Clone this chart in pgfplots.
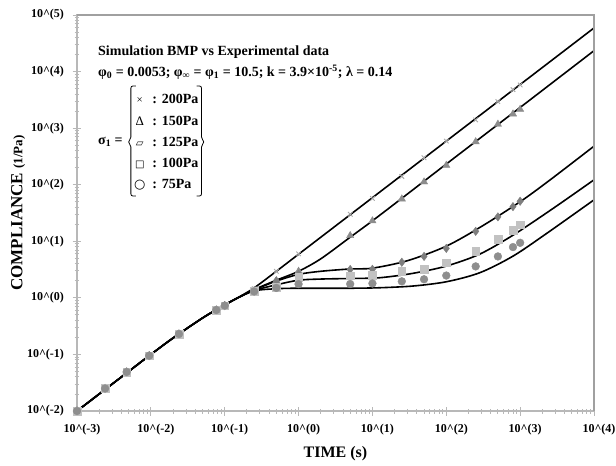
\documentclass[border=0pt]{standalone}
\usepackage{fontspec}
\setmainfont{Liberation Serif}
\newfontfamily\symfont{DejaVu Sans}
\usepackage{pgfplots}
\pgfplotsset{compat=1.18}
\usetikzlibrary{calc}

\definecolor{axisgray}{HTML}{B8B8B8}
\definecolor{framegray}{HTML}{A0A0A0}
\definecolor{mkx}{HTML}{A8A8A8}
\definecolor{mktri}{HTML}{8C8C8C}
\definecolor{mkdia}{HTML}{7E7E7E}
\definecolor{mksq}{HTML}{C2C2C2}
\definecolor{mkcirc}{HTML}{8E8E8E}

\begin{document}
\begin{tikzpicture}
\begin{axis}[
    scale only axis,
    width=517pt, height=396pt,
    xmode=log, ymode=log,
    xmin=1e-3, xmax=1e4, ymin=1e-2, ymax=1e5,
    clip=false,
    axis line style={draw=axisgray, line width=1.4pt},
    xtick={1e-3,1e-2,1e-1,1,1e1,1e2,1e3,1e4},
    xticklabels={10\textasciicircum(-3),10\textasciicircum(-2),10\textasciicircum(-1),10\textasciicircum(0),
                 10\textasciicircum(1),10\textasciicircum(2),10\textasciicircum(3),10\textasciicircum(4)},
    ytick={1e-2,1e-1,1,1e1,1e2,1e3,1e4,1e5},
    yticklabels={10\textasciicircum(-2),10\textasciicircum(-1),10\textasciicircum(0),10\textasciicircum(1),
                 10\textasciicircum(2),10\textasciicircum(3),10\textasciicircum(4),10\textasciicircum(5)},
    minor xtick={2e-3,3e-3,4e-3,5e-3,6e-3,7e-3,8e-3,9e-3,
                 2e-2,3e-2,4e-2,5e-2,6e-2,7e-2,8e-2,9e-2,
                 0.2,0.3,0.4,0.5,0.6,0.7,0.8,0.9,
                 2,3,4,5,6,7,8,9,
                 20,30,40,50,60,70,80,90,
                 200,300,400,500,600,700,800,900,
                 2000,3000,4000,5000,6000,7000,8000,9000},
    minor ytick={2e-2,3e-2,4e-2,5e-2,6e-2,7e-2,8e-2,9e-2,
                 0.2,0.3,0.4,0.5,0.6,0.7,0.8,0.9,
                 2,3,4,5,6,7,8,9,
                 20,30,40,50,60,70,80,90,
                 200,300,400,500,600,700,800,900,
                 2000,3000,4000,5000,6000,7000,8000,9000,
                 2e4,3e4,4e4,5e4,6e4,7e4,8e4,9e4},
    xtick pos=bottom, ytick pos=left,
    tick align=center,
    major tick length=9pt, minor tick length=5pt,
    every tick/.style={draw=axisgray, line width=0.9pt},
    tick label style={font=\fontsize{12}{14}\selectfont\bfseries},
    xticklabel style={xshift=5pt, yshift=-5pt},
    yticklabel style={xshift=-5pt},
    xlabel={\fontsize{16}{18}\selectfont\bfseries TIME (s)},
    ylabel={\fontsize{17}{19}\selectfont\bfseries COMPLIANCE {\fontsize{13}{15}\selectfont(1/Pa)}},
    xlabel style={yshift=-5pt},
    ylabel style={yshift=-5pt},
]

% experimental data (markers)
\addplot[only marks, mark=x, mark size=3.2pt, draw=mkx, line width=0.9pt] coordinates {
    (0.001,0.01) (0.0024,0.025) (0.0047,0.049) (0.0095,0.095) (0.024,0.23) (0.077,0.61) (0.1,0.73)
    (0.25,1.45) (0.5,2.95) (1,6.0) (5,30) (10,57) (25,140) (50,300) (100,590)
    (250,1400) (500,2950) (800,4800) (1000,5800)
};
\addplot[only marks, mark=triangle*, mark size=4.2pt, draw=mktri, fill=mktri] coordinates {
    (0.001,0.01) (0.0024,0.025) (0.0047,0.049) (0.0095,0.095) (0.024,0.23) (0.077,0.61) (0.1,0.73)
    (0.25,1.3) (0.5,2.0) (1,2.95) (5,12.6) (10,23) (25,56) (50,112) (100,220)
    (250,575) (500,1175) (800,1780) (1000,2150)
};
\addplot[only marks, mark=diamond*, mark size=4.2pt, draw=mkdia, fill=mkdia] coordinates {
    (0.001,0.01) (0.0024,0.025) (0.0047,0.049) (0.0095,0.095) (0.024,0.23) (0.077,0.61) (0.1,0.73)
    (0.25,1.33) (0.5,2.0) (1,2.6) (5,3.17) (10,3.2) (25,4.26) (50,5.4) (100,7.5)
    (250,15) (500,27) (800,41) (1000,51)
};
\addplot[only marks, mark=square*, mark size=3.8pt, draw=mksq, fill=mksq] coordinates {
    (0.001,0.01) (0.0024,0.025) (0.0047,0.049) (0.0095,0.095) (0.024,0.23) (0.077,0.61) (0.1,0.73)
    (0.25,1.3) (0.5,1.55) (1,2.3) (5,2.48) (10,2.5) (25,2.95) (50,3.25) (100,4.2)
    (250,6.6) (500,10.8) (800,15.8) (1000,19.5)
};
\addplot[only marks, mark=*, mark size=3.9pt, draw=mkcirc, fill=mkcirc] coordinates {
    (0.001,0.01) (0.0024,0.025) (0.0047,0.049) (0.0095,0.095) (0.024,0.23) (0.077,0.61) (0.1,0.73)
    (0.25,1.3) (0.5,1.5) (1,1.75) (5,1.76) (10,1.8) (25,1.96) (50,2.13) (100,2.48)
    (250,3.6) (500,5.4) (800,7.9) (1000,9.4)
};

% simulation BMP (lines)
\addplot[black, line width=1.6pt, smooth] coordinates {
    (0.001,0.01) (0.002,0.02) (0.005,0.05) (0.01,0.1) (0.02,0.195) (0.05,0.44) (0.1,0.75) (0.15,1.0)
    (0.25,1.5) (0.5,2.95) (1,5.9) (10,59) (100,590) (1000,5900) (10000,59000)
};
\addplot[black, line width=1.6pt, smooth] coordinates {
    (0.001,0.01) (0.002,0.02) (0.005,0.05) (0.01,0.1) (0.02,0.195) (0.05,0.44) (0.1,0.75) (0.15,1.0)
    (0.25,1.4) (0.5,2.05) (1,2.95) (2,4.9) (5,11.8) (10,23) (30,69) (100,232) (1000,2320) (10000,23400)
};
\addplot[black, line width=1.6pt, smooth] coordinates {
    (0.001,0.01) (0.002,0.02) (0.005,0.05) (0.01,0.1) (0.02,0.195) (0.05,0.44) (0.1,0.75) (0.15,1.0)
    (0.25,1.38) (0.5,1.98) (1,2.6) (2,2.95) (5,3.24) (10,3.35) (30,4.55) (100,8.2) (300,18.3)
    (1000,50) (2530,121) (10000,480)
};
\addplot[black, line width=1.6pt, smooth] coordinates {
    (0.001,0.01) (0.002,0.02) (0.005,0.05) (0.01,0.1) (0.02,0.195) (0.05,0.44) (0.1,0.75) (0.15,1.0)
    (0.25,1.35) (0.5,1.7) (1,2.05) (2,2.15) (5,2.2) (12.6,2.27) (35.7,2.72) (101,3.66) (286,5.96)
    (807,12.9) (2810,38.3) (10000,122)
};
\addplot[black, line width=1.6pt, smooth] coordinates {
    (0.001,0.01) (0.002,0.02) (0.005,0.05) (0.01,0.1) (0.02,0.195) (0.05,0.44) (0.1,0.75) (0.15,1.0)
    (0.25,1.33) (0.5,1.45) (1,1.48) (5,1.48) (12.6,1.51) (35.7,1.62) (101,1.93) (286,2.79)
    (807,5.5) (2290,13.8) (10000,54)
};

% frame on top and right
\draw[framegray, line width=1.4pt] (rel axis cs:0,1) -- (rel axis cs:1,1) -- (rel axis cs:1,0);
\end{axis}

% annotation (axis box spans (0,0) to (517pt,396pt))
\node[anchor=west, inner sep=0pt, font=\fontsize{14}{16}\selectfont\bfseries]
    at (21pt,359pt) {Simulation BMP vs Experimental data};
\node[anchor=west, inner sep=0pt, font=\fontsize{14}{16}\selectfont\bfseries]
    at (21pt,339pt)
    {φ\textsubscript{0} = 0.0053; φ\textsubscript{∞} = φ\textsubscript{1} = 10.5; k = 3.9×10\textsuperscript{-5}; λ = 0.14};
\node[anchor=west, inner sep=0pt, font=\fontsize{14}{16}\selectfont\bfseries] (sig)
    at (21pt,269pt) {σ\textsubscript{1} =};
\node[anchor=west, inner sep=0pt, font=\fontsize{14}{16}\selectfont\bfseries] (lst)
    at ($(sig.east)+(11pt,0)$)
    {\renewcommand{\arraystretch}{1.32}\begin{tabular}{@{}c@{\ \ }l@{}}
        {\fontsize{11}{13}\selectfont\mdseries ×} & : 200Pa\\
        {\fontsize{13}{15}\selectfont\mdseries Δ} & : 150Pa\\
        {\symfont\fontsize{10}{12}\selectfont ▱} & : 125Pa\\
        {\symfont\fontsize{10}{12}\selectfont □} & : 100Pa\\
        {\symfont\fontsize{13}{15}\selectfont ○} & : 75Pa
    \end{tabular}};
\draw[black, line width=0.8pt, rounded corners=2pt]
    ($(lst.north west)+(2pt,3pt)$) -- ($(lst.north west)+(-3pt,3pt)$)
    -- ($(lst.west)+(-3pt,3pt)$) -- ($(lst.west)+(-6pt,0)$) -- ($(lst.west)+(-3pt,-3pt)$)
    -- ($(lst.south west)+(-3pt,-1pt)$) -- ($(lst.south west)+(2pt,-1pt)$);
\draw[black, line width=0.8pt, rounded corners=2pt]
    ($(lst.north east)+(-2pt,3pt)$) -- ($(lst.north east)+(3pt,3pt)$)
    -- ($(lst.east)+(3pt,3pt)$) -- ($(lst.east)+(6pt,0)$) -- ($(lst.east)+(3pt,-3pt)$)
    -- ($(lst.south east)+(3pt,-1pt)$) -- ($(lst.south east)+(-2pt,-1pt)$);

\pgfresetboundingbox
\path[use as bounding box] (-77pt,-55pt) rectangle (539pt,411pt);
\end{tikzpicture}
\end{document}
